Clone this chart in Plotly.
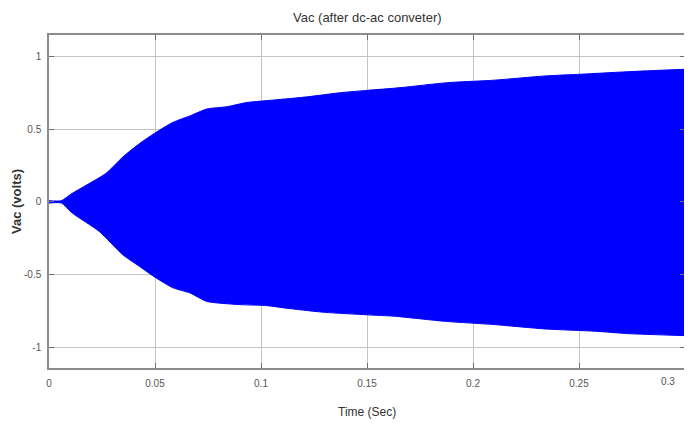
import plotly.graph_objects as go

# Envelope of the high-frequency inverter output
t_upper = [0.0, 0.0058, 0.011, 0.0268, 0.0348, 0.0427, 0.0506, 0.0585, 0.0665, 0.0744,
           0.0839, 0.0934, 0.106, 0.122, 0.138, 0.150, 0.166, 0.188, 0.210, 0.234,
           0.251, 0.273, 0.300]
v_upper = [0.008, 0.008, 0.059, 0.195, 0.308, 0.40, 0.478, 0.546, 0.59, 0.637,
           0.653, 0.682, 0.699, 0.721, 0.75, 0.765, 0.784, 0.818, 0.835, 0.864,
           0.876, 0.893, 0.91]

t_lower = [0.0, 0.0058, 0.011, 0.0237, 0.0348, 0.0427, 0.0506, 0.0585, 0.0665, 0.0744,
           0.090, 0.1027, 0.114, 0.130, 0.150, 0.163, 0.187, 0.210, 0.234, 0.258,
           0.273, 0.300]
v_lower = [-0.008, -0.008, -0.077, -0.203, -0.363, -0.443, -0.523, -0.59, -0.625, -0.683,
           -0.705, -0.712, -0.733, -0.758, -0.775, -0.785, -0.82, -0.842, -0.872, -0.888,
           -0.904, -0.918]

x_ticks = [0, 0.05, 0.1, 0.15, 0.2, 0.25, 0.3]
x_tick_labels = ["0", "0.05", "0.1", "0.15", "0.2", "0.25", "0.3"]
y_ticks = [-1, -0.5, 0, 0.5, 1]
y_tick_labels = ["-1", "-0.5", "0", "0.5", "1"]

BLUE = "#0000ff"
FONT = "Liberation Sans, Arial, sans-serif"
TICKFONT = dict(family=FONT, size=10, color="#555555")

fig = go.Figure()
fig.add_trace(go.Scatter(x=t_lower, y=v_lower, mode="lines",
                         line=dict(color=BLUE, width=1, shape="spline", smoothing=0.6),
                         showlegend=False, hoverinfo="skip"))
fig.add_trace(go.Scatter(x=t_upper, y=v_upper, mode="lines", fill="tonexty",
                         fillcolor=BLUE,
                         line=dict(color=BLUE, width=1, shape="spline", smoothing=0.6),
                         showlegend=False, hoverinfo="skip"))

axis_common = dict(
    showgrid=True, gridcolor="#c4c4c4", gridwidth=1,
    showline=True, linecolor="#8c8c8c", linewidth=1.5, mirror="ticks",
    ticks="inside", ticklen=5, tickcolor="#6e6e6e",
    tickfont=TICKFONT, zeroline=False, automargin=False,
)

# Plotly drops the last x tick label at the figure edge, so it is drawn as an
# annotation at the same data position instead.
shown_x_labels = x_tick_labels[:-1] + [""]

# The page body adds an 8 px offset, so the figure is sized to fit the window.
fig.update_layout(
    width=684, height=423,
    margin=dict(l=41, r=7, t=27, b=63),
    paper_bgcolor="white", plot_bgcolor="white",
    xaxis=dict(range=[0, 0.3], tickvals=x_ticks, ticktext=shown_x_labels,
               ticklabelstandoff=5, **axis_common),
    yaxis=dict(range=[-1.14, 1.145], tickvals=y_ticks, ticktext=y_tick_labels,
               ticklabelstandoff=4, **axis_common),
    annotations=[
        dict(text=x_tick_labels[-1], xref="x", yref="paper",
             x=x_ticks[-1], y=0, xshift=-8, yshift=-6, xanchor="right", yanchor="top",
             showarrow=False, font=TICKFONT),
        dict(text="Vac (after dc-ac conveter)", xref="paper", yref="paper",
             x=0.5, y=1.0, yshift=8, xanchor="center", yanchor="bottom",
             showarrow=False, font=dict(family=FONT, size=13, color="#333333")),
        dict(text="Time (Sec)", xref="paper", yref="paper",
             x=0.5, y=0, yshift=-35, xanchor="center", yanchor="top",
             showarrow=False, font=dict(family=FONT, size=12, color="#333333")),
        dict(text="<b>Vac (volts)</b>", xref="paper", yref="paper",
             x=0, xshift=-23, y=0.5, xanchor="right", yanchor="middle",
             textangle=-90, showarrow=False,
             font=dict(family=FONT, size=13, color="#333333")),
    ],
)

fig.write_html("out.html")
